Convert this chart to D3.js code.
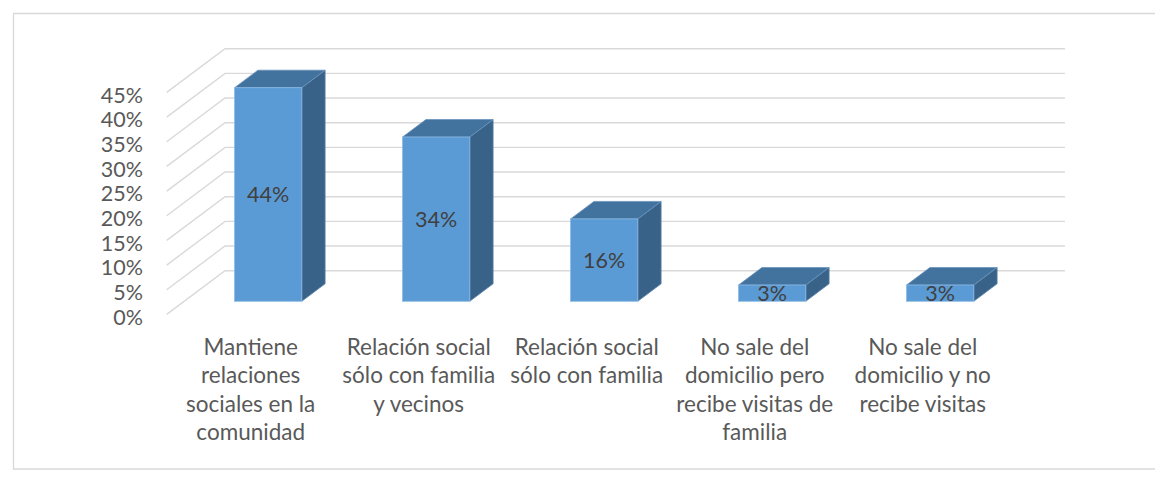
<!DOCTYPE html>
<html>
<head>
<meta charset="utf-8">
<script src="https://cdn.jsdelivr.net/npm/d3@7"></script>
<style>
  body { margin: 0; background: #fff; }
  svg { display: block; font-family: Lato, "Open Sans", sans-serif; }
</style>
</head>
<body>
<svg id="chart" width="1155" height="478"></svg>
<script>
// data
var categories = [
  "Mantiene\nrelaciones\nsociales en la\ncomunidad",
  "Relación social\nsólo con familia\ny vecinos",
  "Relación social\nsólo con familia",
  "No sale del\ndomicilio pero\nrecibe visitas de\nfamilia",
  "No sale del\ndomicilio y no\nrecibe visitas"
];
var values = [0.433, 0.333, 0.167, 0.033, 0.033];
var valueLabels = ["44%", "34%", "16%", "3%", "3%"];
var tickValues = [0, 0.05, 0.10, 0.15, 0.20, 0.25, 0.30, 0.35, 0.40, 0.45];

var svg = d3.select("#chart");

// 3d offsets (front -> back wall)
var DX = 58.3, DY = 43.7;
var D0 = 0.3, D1 = 0.7;   // bar depth slice

var x = d3.scaleBand()
  .domain(categories)
  .range([166.7, 1006.7])
  .paddingInner(0.6)
  .paddingOuter(0.3);

var y = d3.scaleLinear()
  .domain([0, 0.45])
  .range([314.4, 92.4]);

function px(xf, d) { return xf + d * DX; }
function py(yf, d) { return yf - d * DY; }

// outer border
svg.append("path")
  .attr("d", "M1160,13.5H13.5V469H1160")
  .attr("fill", "none")
  .attr("stroke", "#d9d9d9")
  .attr("stroke-width", 1.3);

// ----- gridlines: back wall + left wall -----
var grid = svg.append("g").attr("stroke", "#d9d9d9").attr("stroke-width", 1.4).attr("fill", "none");
grid.selectAll("path")
  .data(tickValues)
  .enter()
  .append("path")
  .attr("d", function(d) {
    var x0 = x.range()[0], x1 = x.range()[1];
    return "M" + px(x0, 0) + "," + py(y(d), 0) +
           "L" + px(x0, 1) + "," + py(y(d), 1) +
           "L" + px(x1, 1) + "," + py(y(d), 1);
  });

// ----- y axis labels -----
var yAxis = d3.axisLeft(y)
  .tickValues(tickValues)
  .tickFormat(d3.format(".0%"))
  .tickSize(0)
  .tickPadding(0);

var ax = svg.append("g")
  .attr("transform", "translate(143,3)")
  .call(yAxis);
ax.select(".domain").remove();
ax.selectAll("text")
  .attr("fill", "#595959")
  .style("font-size", "21.5px")
  .style("font-family", "Lato, 'Open Sans', sans-serif");

// ----- bars -----
var bars = svg.append("g")
  .selectAll("g")
  .data(values)
  .enter()
  .append("g");

function barX(i) { return x(categories[i]); }

// side face
bars.append("path")
  .attr("d", function(d, i) {
    var xr = barX(i) + x.bandwidth();
    return "M" + px(xr, D0) + "," + py(y(d), D0) +
           "L" + px(xr, D1) + "," + py(y(d), D1) +
           "L" + px(xr, D1) + "," + py(y(0), D1) +
           "L" + px(xr, D0) + "," + py(y(0), D0) + "Z";
  })
  .attr("fill", "#386288")
  .attr("stroke", "#5f86ad")
  .attr("stroke-width", 0.8);

// top face
bars.append("path")
  .attr("d", function(d, i) {
    var xl = barX(i), xr = xl + x.bandwidth();
    return "M" + px(xl, D0) + "," + py(y(d), D0) +
           "L" + px(xl, D1) + "," + py(y(d), D1) +
           "L" + px(xr, D1) + "," + py(y(d), D1) +
           "L" + px(xr, D0) + "," + py(y(d), D0) + "Z";
  })
  .attr("fill", "#42739f")
  .attr("stroke", "#6a93bb")
  .attr("stroke-width", 0.8);

// front face
bars.append("rect")
  .attr("x", function(d, i) { return px(barX(i), D0); })
  .attr("y", function(d) { return py(y(d), D0); })
  .attr("width", x.bandwidth())
  .attr("height", function(d) { return y(0) - y(d); })
  .attr("fill", "#5b9bd5")
  .attr("stroke", "#8ab8e3")
  .attr("stroke-width", 0.8);

// value labels
bars.append("text")
  .attr("x", function(d, i) { return px(barX(i) + x.bandwidth() / 2, D0); })
  .attr("y", function(d) { return py((y(d) + y(0)) / 2, D0); })
  .attr("dy", "0.36em")
  .attr("text-anchor", "middle")
  .attr("fill", "#404040")
  .style("font-size", "21.5px")
  .text(function(d, i) { return valueLabels[i]; });

// ----- category labels -----
var cat = svg.append("g")
  .selectAll("text")
  .data(categories)
  .enter()
  .append("text")
  .attr("text-anchor", "middle")
  .attr("fill", "#595959")
  .style("font-size", "22.5px")
  .attr("transform", function(d) {
    return "translate(" + (x(d) + x.bandwidth() / 2) + ",355)";
  });

cat.selectAll("tspan")
  .data(function(d) { return d.split("\n"); })
  .enter()
  .append("tspan")
  .attr("x", 0)
  .attr("y", function(d, i) { return i * 28.3; })
  .text(function(d) { return d; });
</script>
</body>
</html>
